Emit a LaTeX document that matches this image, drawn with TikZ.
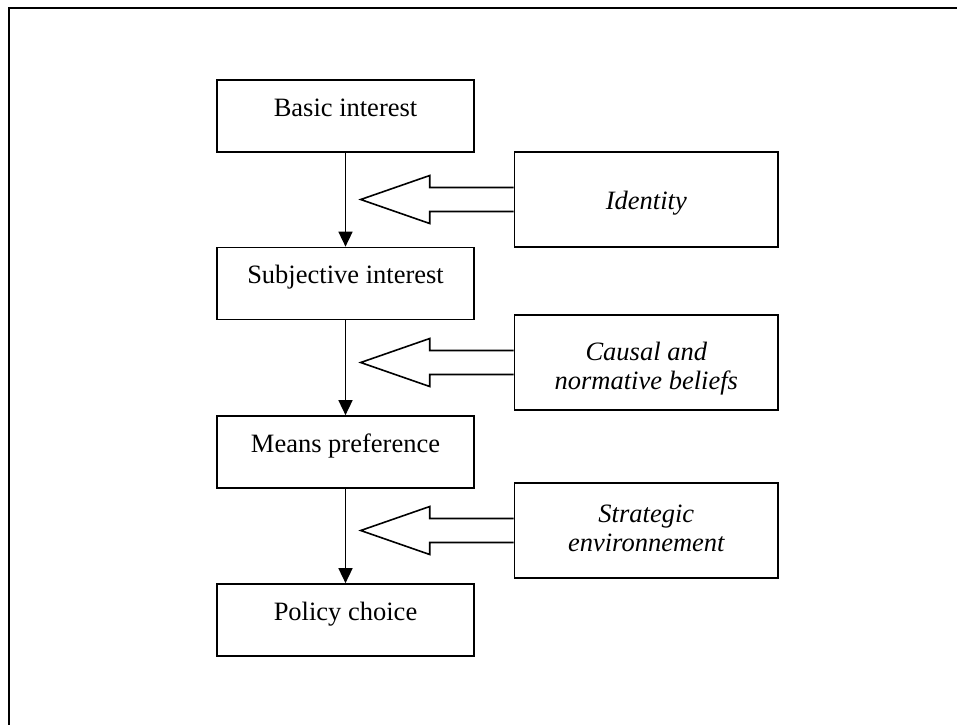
\documentclass[tikz,border=0pt]{standalone}
\usepackage{fontspec}
\setmainfont{Liberation Serif}
\usetikzlibrary{arrows.meta,calc}
\begin{document}
\begin{tikzpicture}[x=1pt,y=-1pt,
  stage/.style={draw,line width=1.7pt,minimum width=257pt,minimum height=72pt,
    inner sep=0pt,text height=8pt,text depth=8pt,font=\fontsize{26.5}{29}\selectfont},
  factor/.style={draw,line width=1.7pt,minimum width=263.5pt,minimum height=95pt,inner sep=0pt},
  ftxt/.style={anchor=base,inner sep=0pt,font=\fontsize{26.5}{29}\selectfont\itshape},
  flow/.style={line width=1.6pt,-{Triangle[width=14pt,length=15pt]}},
  push/.style={line width=1.6pt,line join=miter}
]
\useasboundingbox (0,0) rectangle (957,724);

% open frame: top and left rules only
\draw[line width=2.4pt,line join=miter] (9,730) -- (9,8) -- (965,8);

% chain of stages
\node[stage] (basic)  at (345.5,116)   {Basic interest};
\node[stage] (subj)   at (345.5,283.5) {Subjective interest};
\node[stage] (means)  at (345.5,452)   {Means preference};
\node[stage] (policy) at (345.5,620)   {Policy choice};

\draw[flow] (basic.south) -- (subj.north);
\draw[flow] (subj.south)  -- (means.north);
\draw[flow] (means.south) -- (policy.north);

% influencing factors
\node[factor] (identity) at (646.3,199.5) {};
\node[factor] (causal)   at (646.3,362.5) {};
\node[factor] (strat)    at (646.3,530.5) {};

\node[ftxt] (identityT) at (646.3,209) {Identity};
\node[ftxt] (causalA)   at (646.3,360) {Causal and};
\node[ftxt] (causalB)   at (646.3,389) {normative beliefs};
\node[ftxt] (stratA)    at (646.3,522) {Strategic};
\node[ftxt] (stratB)    at (646.3,551) {environnement};

% hollow block arrows pointing at the flow
\foreach \f in {identity,causal,strat}{
  \draw[push] ($(\f.west)+(0,-12)$) -- ++(-84,0) -- ++(0,-12) -- ++(-69,24)
    -- ++(69,24) -- ++(0,-12) -- ++(84,0);
}
\end{tikzpicture}
\end{document}
